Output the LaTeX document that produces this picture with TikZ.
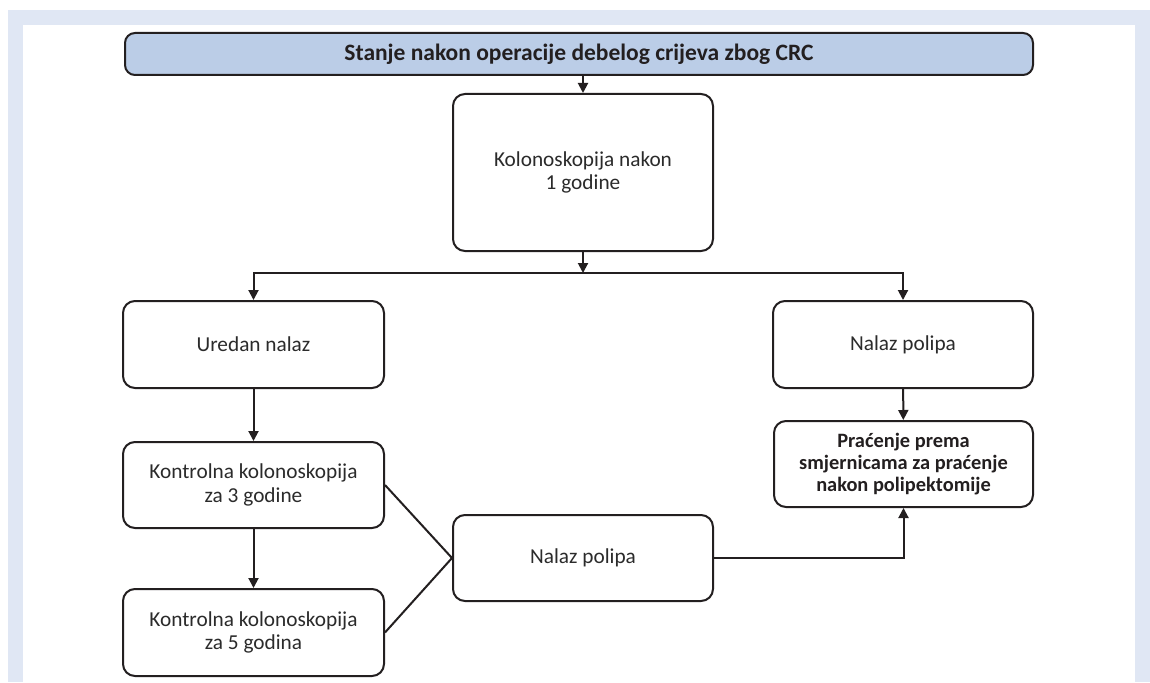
\documentclass[tikz,border=0pt]{standalone}
\usepackage{fontspec}
\setmainfont{Carlito}
\usetikzlibrary{arrows.meta}
\definecolor{band}{HTML}{E0E7F4}
\definecolor{titlefill}{HTML}{BBCDE7}
\definecolor{ink}{HTML}{231F20}
\definecolor{txt}{HTML}{2B2B2B}
\tikzset{
  box/.style={draw=ink, line width=2pt, rounded corners=12pt, fill=white, align=center,
    inner sep=0pt, font=\fontsize{21.3}{23.5}\selectfont, text=txt},
  titlebox/.style={box, fill=titlefill, rounded corners=10pt, font=\fontsize{23.5}{26}\selectfont\bfseries, text=ink},
  arr/.style={draw=ink, line width=2pt, -{Triangle[length=10pt,width=10pt]}},
  ln/.style={draw=ink, line width=2pt},
}
\begin{document}
\begin{tikzpicture}[x=1pt,y=-1pt]
\useasboundingbox (0,0) rectangle (1150,682);
\fill[band] (8,10) rectangle (1150,682);
\fill[white] (23,25) rectangle (1135,682);

\node[titlebox, minimum width=908pt, minimum height=42pt] (title) at (579,54) {Stanje nakon operacije debelog crijeva zbog CRC};
\node[box, minimum width=260pt, minimum height=157pt] (kol1) at (583,172.5) {Kolonoskopija nakon\\1 godine};
\node[box, minimum width=261pt, minimum height=87pt] (ured) at (253.5,344.5) {Uredan nalaz};
\node[box, minimum width=260pt, minimum height=87pt] (nal1) at (903,344.5) {Nalaz polipa};
\node[box, minimum width=259pt, minimum height=86pt, font=\fontsize{20.4}{22}\selectfont\bfseries, text=ink] (prac) at (903.5,464) {Praćenje prema\\smjernicama za praćenje\\nakon polipektomije};
\node[box, minimum width=261pt, minimum height=86pt] (k3) at (253.5,485) {Kontrolna kolonoskopija\\za 3 godine};
\node[box, minimum width=261pt, minimum height=87pt] (k5) at (253.5,632.5) {Kontrolna kolonoskopija\\za 5 godina};
\node[box, minimum width=260pt, minimum height=86pt] (nal2) at (583,558) {Nalaz polipa};

\coordinate (split) at (583,273);
\draw[arr] (title.south -| kol1.north) -- (kol1.north);
\draw[arr] (kol1.south) -- (split);
\draw[arr] (split) -| (ured.north);
\draw[arr] (split) -| (nal1.north);
\draw[arr] (ured) -- (k3);
\draw[arr] (k3) -- (k5);
\draw[arr] (nal1) -- (prac);
\draw[ln] (k3.east) -- (nal2.west);
\draw[ln] (k5.east) -- (nal2.west);
\draw[arr] (nal2.east) -| (prac.south);
\end{tikzpicture}
\end{document}
